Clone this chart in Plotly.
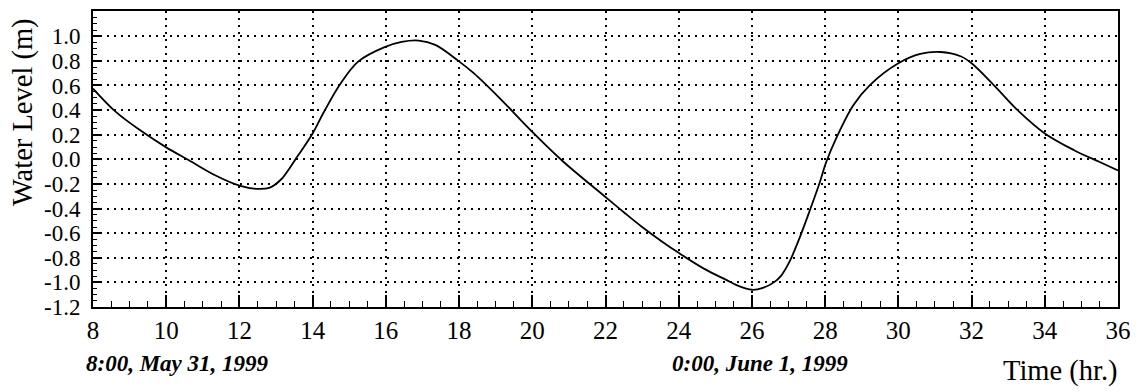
import plotly.graph_objects as go

# Time (hr.) since 0:00 May 31, 1999
time_hr = [8.0, 8.64, 9.37, 10.0, 10.62, 11.35, 12.0, 12.47, 12.83, 13.15, 13.38,
           13.6, 14.0, 14.3, 14.75, 15.25, 15.95, 16.43, 16.9, 17.35, 17.98, 18.4,
           19.1, 20.0, 20.85, 21.95, 22.5, 23.0, 23.53, 24.0, 24.7, 25.3, 25.6,
           26.0, 26.3, 26.6, 26.8, 27.03, 27.3, 27.6, 27.85, 28.02, 28.3, 28.77,
           29.23, 30.0, 30.6, 31.15, 31.7, 32.0, 32.6, 33.3, 34.0, 34.8, 35.5, 36.0]
water_level = [0.575, 0.381, 0.219, 0.097, -0.008, -0.132, -0.214, -0.24, -0.23,
               -0.16, -0.068, 0.03, 0.21, 0.38, 0.61, 0.796, 0.91, 0.954, 0.965,
               0.93, 0.80, 0.70, 0.50, 0.223, -0.02, -0.294, -0.43, -0.55, -0.665,
               -0.76, -0.89, -0.98, -1.025, -1.06, -1.045, -1.0, -0.945, -0.83,
               -0.64, -0.40, -0.19, -0.03, 0.17, 0.44, 0.605, 0.78, 0.856, 0.872,
               0.837, 0.78, 0.605, 0.387, 0.21, 0.074, -0.022, -0.09]

x_ticks = [8, 10, 12, 14, 16, 18, 20, 22, 24, 26, 28, 30, 32, 34, 36]
y_ticks = [1.0, 0.8, 0.6, 0.4, 0.2, 0.0, -0.2, -0.4, -0.6, -0.8, -1.0, -1.2]
y_tick_labels = ["1.0", "0.8", "0.6", "0.4", "0.2", "0.0", "-0.2", "-0.4",
                 "-0.6", "-0.8", "-1.0", "-1.2"]

y_title = "Water Level (m)"
x_title = "Time (hr.)"
start_label = "8:00, May 31, 1999"
mid_label = "0:00, June 1, 1999"

SERIF = "'Liberation Serif', 'Times New Roman', Times, 'DejaVu Serif', serif"

fig = go.Figure()
fig.add_trace(go.Scatter(
    x=time_hr, y=water_level, mode="lines",
    line=dict(color="black", width=1.8, shape="spline", smoothing=1.0),
    showlegend=False, hoverinfo="skip"))

W, H = 1141, 392
ml, mr, mt, mb = 93, 23, 11, 85

fig.update_layout(
    width=W, height=H,
    margin=dict(l=ml, r=mr, t=mt, b=mb, pad=0),
    paper_bgcolor="white", plot_bgcolor="white",
    font=dict(family=SERIF, color="black", size=22),
    xaxis=dict(
        range=[8.0, 36.0], tickmode="array", tickvals=x_ticks,
        ticks="inside", ticklen=12, tickwidth=1.5, tickcolor="black",
        minor=dict(ticks="inside", ticklen=6, tickwidth=1.3, tickcolor="black",
                   tickmode="linear", tick0=8, dtick=0.5, showgrid=False),
        showline=True, linecolor="black", linewidth=2, mirror=True,
        showgrid=True, gridcolor="black", gridwidth=1.5, griddash="2px,5px",
        zeroline=False, tickfont=dict(size=25, family=SERIF),
        automargin=False,
    ),
    yaxis=dict(
        range=[-1.2, 1.205], tickmode="array", tickvals=y_ticks,
        ticktext=y_tick_labels,
        ticks="inside", ticklen=8, tickwidth=1.5, tickcolor="black",
        minor=dict(ticks="inside", ticklen=4, tickwidth=1.3, tickcolor="black",
                   tickmode="linear", dtick=0.05, tick0=0, showgrid=False),
        showline=True, linecolor="black", linewidth=2, mirror=True,
        showgrid=True, gridcolor="black", gridwidth=1.5, griddash="2px,5px",
        zeroline=False, tickfont=dict(size=23, family=SERIF),
        ticklabelstandoff=6,
        automargin=False,
    ),
)

pw = W - ml - mr
ph = H - mt - mb

def px_to_paper(px, py):
    return (px - ml) / pw, (H - mb - py) / ph

ax, ay = px_to_paper(23, 112)
fig.add_annotation(x=ax, y=ay, xref="paper", yref="paper", text=y_title,
                   showarrow=False, xanchor="center", yanchor="middle",
                   textangle=-90, font=dict(size=28.5, family=SERIF))
ax, ay = px_to_paper(177, 363)
fig.add_annotation(x=ax, y=ay, xref="paper", yref="paper", text=start_label,
                   showarrow=False, xanchor="center", yanchor="middle",
                   font=dict(size=23, family=SERIF, style="italic", weight="bold"))
ax, ay = px_to_paper(850, 363)
fig.add_annotation(x=ax, y=ay, xref="paper", yref="paper", text=mid_label,
                   showarrow=False, xanchor="right", yanchor="middle",
                   font=dict(size=23, family=SERIF, style="italic", weight="bold"))
ax, ay = px_to_paper(1120, 371)
fig.add_annotation(x=ax, y=ay, xref="paper", yref="paper", text=x_title,
                   showarrow=False, xanchor="right", yanchor="middle",
                   font=dict(size=28.5, family=SERIF))

fig.write_html("out.html")
